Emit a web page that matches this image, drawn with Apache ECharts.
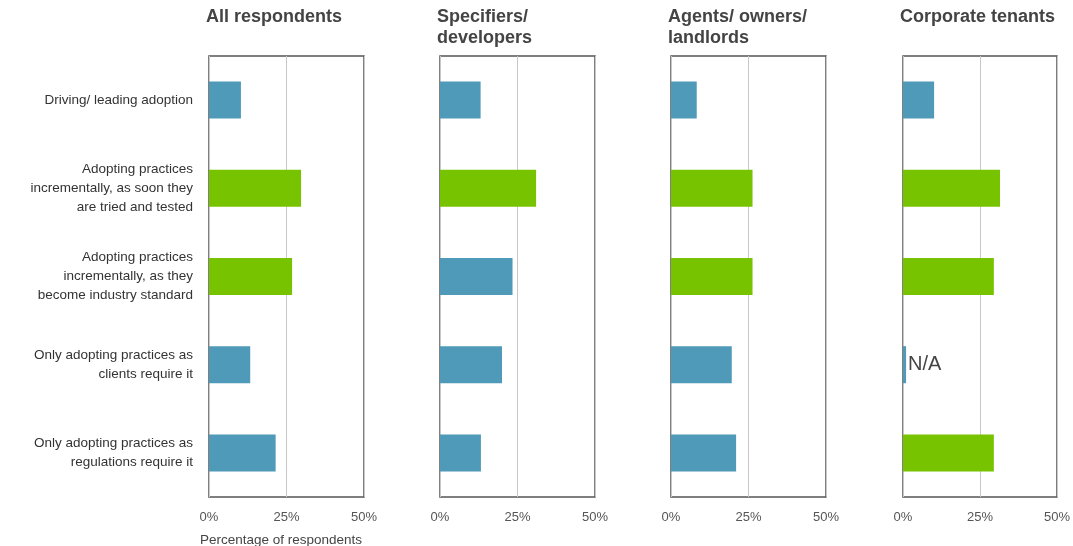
<!DOCTYPE html>
<html>
<head>
<meta charset="utf-8">
<script src="https://cdn.jsdelivr.net/npm/echarts@6/dist/echarts.min.js"></script>
<style>
  html, body { margin: 0; padding: 0; background: #fff; }
  #chart { width: 1073px; height: 546px; }
</style>
</head>
<body>
<div id="chart"></div>
<script>
  // 类别（从上到下）
  const categories = [
    'Driving/ leading adoption',
    'Adopting practices\nincrementally, as soon they\nare tried and tested',
    'Adopting practices\nincrementally, as they\nbecome industry standard',
    'Only adopting practices as\nclients require it',
    'Only adopting practices as\nregulations require it'
  ]
  const panelTitles = ['All respondents', 'Specifiers/\ndevelopers', 'Agents/ owners/\nlandlords', 'Corporate tenants']
  const xTicks = [0, 25, 50]

  // 各组百分比
  const allRespondents = [10.3, 29.7, 26.8, 13.3, 21.5]
  const specifiers = [13.1, 31, 23.4, 20, 13.2]
  const agents = [8.3, 26.3, 26.3, 19.6, 21]
  const corporateTenants = [10.1, 31.5, 29.5, 1, 29.5] // 第4项为 N/A 小条
  // 是否为突出项（绿色）
  const allHighlight = [false, true, true, false, false]
  const specHighlight = [false, true, false, false, false]
  const agentHighlight = [false, true, true, false, false]
  const corpHighlight = [false, true, true, false, true]
  const corpNotes = ['', '', '', 'N/A', '']

  const BLUE = '#4f9ab8'
  const GREEN = '#78c300'
  const panels = [
    { values: allRespondents, hl: allHighlight, notes: null },
    { values: specifiers, hl: specHighlight, notes: null },
    { values: agents, hl: agentHighlight, notes: null },
    { values: corporateTenants, hl: corpHighlight, notes: corpNotes }
  ]
  const lefts = [209, 440, 671, 903]
  const font = '"Liberation Sans", Arial, sans-serif'

  const grid = []
  const xAxis = []
  const yAxis = []
  const series = []
  const title = []

  panels.forEach(function (p, i) {
    grid.push({
      left: lefts[i], top: 56, width: 155, height: 441,
      show: true, borderColor: '#555', borderWidth: 1.5, backgroundColor: 'transparent'
    })
    title.push({
      text: panelTitles[i], left: lefts[i] - 8, top: 2,
      textStyle: { fontFamily: font, fontSize: 18, fontWeight: 'bold', color: '#444', lineHeight: 21 }
    })
    xAxis.push({
      type: 'value', gridIndex: i, min: xTicks[0], max: xTicks[2], interval: 25,
      axisLine: { show: false }, axisTick: { show: false },
      splitLine: { show: true, lineStyle: { color: '#c8c8c8', width: 1 } },
      axisLabel: { formatter: '{value}%', margin: 14, fontFamily: font, fontSize: 13, color: '#555' }
    })
    yAxis.push({
      type: 'category', gridIndex: i, inverse: true, data: categories,
      axisLine: { show: false }, axisTick: { show: false },
      axisLabel: {
        show: i === 0, margin: 16, fontFamily: font, fontSize: 13.5, color: '#333',
        lineHeight: 19, align: 'right'
      }
    })
    series.push({
      type: 'bar', xAxisIndex: i, yAxisIndex: i, barWidth: '42%',
      data: p.values.map(function (v, k) {
        const d = { value: v, itemStyle: { color: p.hl[k] ? GREEN : BLUE } }
        if (p.notes && p.notes[k]) {
          d.label = {
            show: true, position: 'right', distance: 2, formatter: p.notes[k],
            fontFamily: font, fontSize: 20, color: '#444'
          }
        }
        return d
      })
    })
  })

  title.push({
    text: 'Percentage of respondents', left: 195, top: 528,
    textStyle: { fontFamily: font, fontSize: 13.5, fontWeight: 'normal', color: '#444' }
  })

  const chart = echarts.init(document.getElementById('chart'), null, { renderer: 'canvas' })
  chart.setOption({
    animation: false,
    backgroundColor: '#fff',
    title: title,
    grid: grid,
    xAxis: xAxis,
    yAxis: yAxis,
    series: series
  })
</script>
</body>
</html>
